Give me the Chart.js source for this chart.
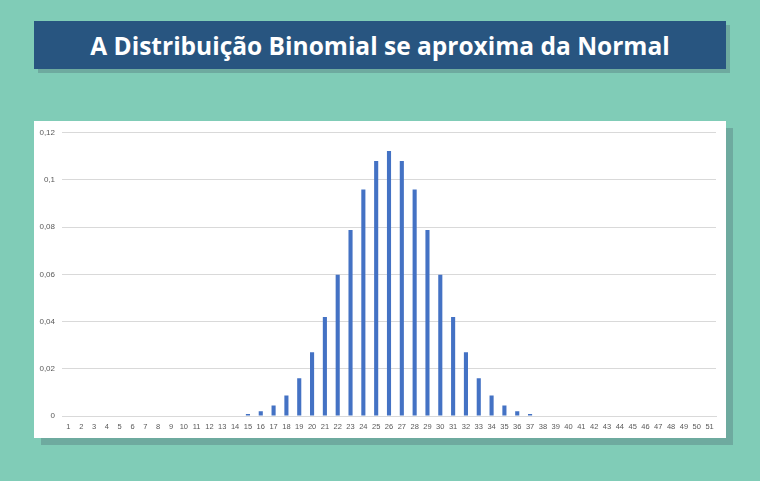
<!DOCTYPE html>
<html>
<head>
<meta charset="utf-8">
<script src="https://cdn.jsdelivr.net/npm/chart.js@4"></script>
<style>
  html, body { margin: 0; padding: 0; }
  body { width: 760px; height: 481px; background: #80ccb7; position: relative; overflow: hidden; }
  #title {
    position: absolute; left: 34px; top: 21px; width: 692px; height: 48px;
    background: #285580; color: #fff; box-shadow: 4px 4px 0 #6eaa9f;
    font-family: "Open Sans", sans-serif; font-weight: bold; font-size: 24.5px;
    line-height: 49px; text-align: center;
  }
  #panel {
    position: absolute; left: 34px; top: 121px; width: 692px; height: 317px;
    background: #fff; box-shadow: 7px 7px 0 #6eaa9f;
  }
</style>
</head>
<body>
<div id="title">A Distribuição Binomial se aproxima da Normal</div>
<div id="panel"><canvas id="chart1" width="692" height="317"></canvas></div>
<script>
// categories
var labels = ["1","2","3","4","5","6","7","8","9","10","11","12","13","14","15","16","17",
  "18","19","20","21","22","23","24","25","26","27","28","29","30","31","32","33","34",
  "35","36","37","38","39","40","41","42","43","44","45","46","47","48","49","50","51"];

// probabilities
var probs = [0, 0, 0, 0, 0, 0, 0, 0, 0, 0, 0, 0, 0, 0,
  0.0008, 0.002, 0.0044, 0.0087, 0.016, 0.027, 0.0419, 0.0598, 0.0788, 0.096, 0.108,
  0.1123,
  0.108, 0.096, 0.0788, 0.0598, 0.0419, 0.027, 0.016, 0.0087, 0.0044, 0.002, 0.0008,
  0, 0, 0, 0, 0, 0, 0, 0, 0, 0, 0, 0, 0, 0];

// y tick values
var yTicks = [0, 0.02, 0.04, 0.06, 0.08, 0.1, 0.12];

var ctx = document.getElementById('chart1');
var myChart = new Chart(ctx, {
  type: 'bar',
  data: {
    labels: labels,
    datasets: [{
      data: probs,
      backgroundColor: '#4472c4',
      categoryPercentage: 1,
      barPercentage: 0.32
    }]
  },
  options: {
    responsive: false,
    animation: false,
    layout: { padding: { left: 0, right: 10, top: 10, bottom: 0 } },
    plugins: { legend: { display: false }, tooltip: { enabled: false } },
    scales: {
      x: {
        grid: { display: false, drawTicks: false },
        border: { display: true, color: '#d9d9d9' },
        ticks: {
          color: '#595959', font: { family: 'Liberation Sans', size: 7.5 },
          maxRotation: 0, autoSkip: false, padding: 6
        },
        afterFit: function(scale) { scale.height = 22; }
      },
      y: {
        min: 0, max: 0.12,
        afterBuildTicks: function(scale) {
          scale.ticks = yTicks.map(function(v) { return { value: v }; });
        },
        grid: { color: '#d9d9d9', drawTicks: false },
        border: { display: false },
        ticks: {
          color: '#595959', font: { family: 'Liberation Sans', size: 8 }, padding: 7,
          callback: function(v) { return String(parseFloat(v.toFixed(2))).replace('.', ','); }
        },
        afterFit: function(scale) { scale.width = 28; }
      }
    }
  }
});
</script>
</body>
</html>
